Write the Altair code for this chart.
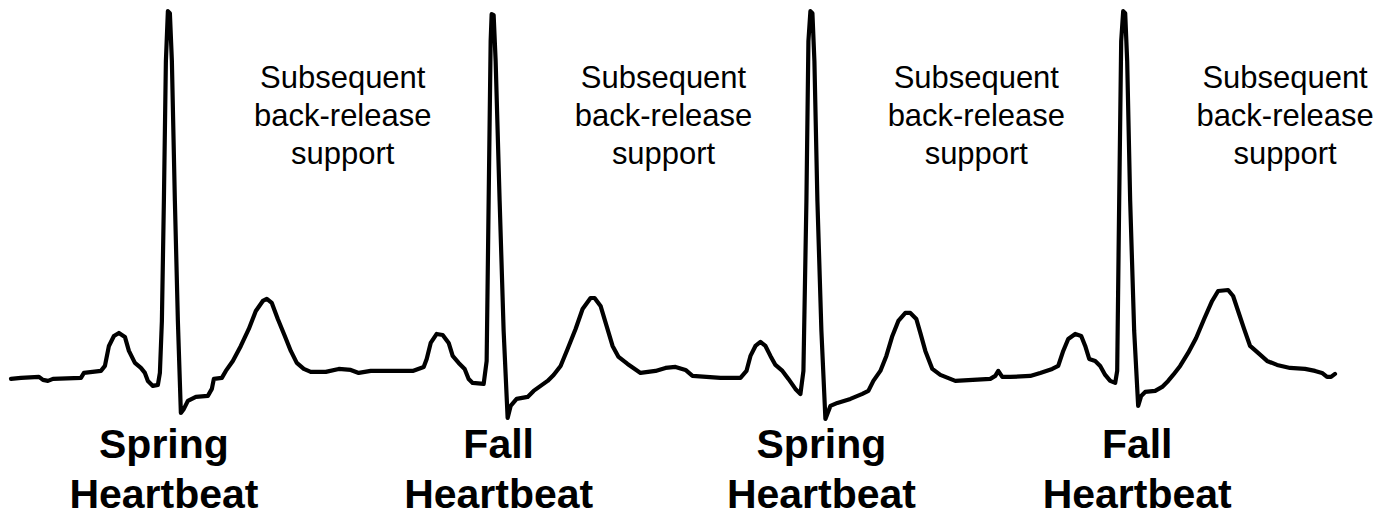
import altair as alt
import pandas as pd

# ECG trace: time (arbitrary units) and amplitude (arbitrary units, baseline = 0)
t_vals = [10, 20, 38, 42, 47, 52, 80, 83, 100, 104, 108, 113, 118, 124, 128, 134, 140, 144, 147, 152, 157, 159,
          161, 163, 165, 167, 169, 171, 174, 177, 180, 183, 187, 195, 207, 211, 213, 221, 225, 232, 240, 248,
          255, 262, 266, 271, 277, 284, 290, 296, 303, 310, 325, 338, 350, 358, 370, 412, 423, 426, 430, 436,
          442, 448, 452, 458, 464, 468, 472, 483,
          486, 488, 490, 491, 493, 495, 499, 503, 507, 510, 516, 527, 533, 540, 547, 553, 560, 567, 575, 582,
          590, 594, 600, 606, 612, 618, 627, 640, 655, 665, 675, 685, 692, 720, 740, 746, 750, 755, 760, 765,
          770, 775, 782, 788, 795, 800,
          803, 806, 808, 810, 812, 814, 817, 821, 825, 830, 837, 850, 862, 868, 873, 880, 886, 892, 898, 905,
          910, 916, 920, 925, 932, 940, 955, 990, 995, 998, 1002, 1010, 1030, 1040, 1052, 1058, 1063, 1068,
          1075, 1081, 1085, 1089, 1095, 1100, 1105, 1110, 1115,
          1117, 1119, 1121, 1123, 1125, 1127, 1130, 1134, 1138, 1141, 1145, 1155, 1162, 1168, 1173, 1180, 1188,
          1196, 1204, 1212, 1218, 1228, 1233, 1238, 1244, 1250, 1258, 1267, 1277, 1290, 1305, 1315, 1322, 1327,
          1331, 1335]
v_vals = [-6, -5, -4, -7, -8, -6, -5, 0, 2, 7, 27, 37, 40, 36, 22, 10, 5, 0, -8, -13, -12, 0,
          52, 172, 312, 362, 360, 312, 172, 52, -40, -36, -28, -24, -23, -16, -6, -5, 2, 12, 27, 44,
          62, 72, 74, 70, 54, 37, 22, 10, 4, 1, 1, 4, 3, 0, 2, 2, 6, 14, 30, 39,
          38, 30, 17, 10, 4, -6, -10, -11,
          12, 172, 332, 359, 358, 312, 172, 42, -45, -33, -26, -24, -18, -13, -8, -2, 7, 24, 44, 64,
          75, 75, 67, 47, 27, 16, 9, 0, 2, 5, 6, 3, -3, -5, -5, 2, 17, 27, 31, 27,
          17, 8, 2, -6, -16, -21,
          2, 172, 332, 362, 360, 312, 172, 42, -46, -33, -30, -26, -21, -18, -8, 2, 17, 37, 52, 60,
          60, 54, 40, 22, 4, -2, -8, -6, -3, 2, -4, -4, -3, 0, 4, 7, 22, 34,
          39, 37, 27, 14, 12, 7, -2, -8, -10,
          2, 172, 332, 362, 360, 312, 172, 42, -33, -23, -19, -18, -14, -8, -2, 7, 20,
          35, 54, 72, 82, 83, 77, 62, 44, 27, 20, 12, 8, 5, 4, 2, 0, -4,
          -4, -1]

# Annotations
sub_labels = ["Subsequent\nback-release\nsupport"] * 4
sub_t = [342, 663, 976, 1285]
sub_v = [285, 285, 285, 285]
beat_labels = ["Spring\nHeartbeat", "Fall\nHeartbeat", "Spring\nHeartbeat", "Fall\nHeartbeat"]
beat_t = [163, 498, 821, 1137]
beat_v = [-85, -85, -85, -85]

ecg = pd.DataFrame({"t": t_vals, "v": v_vals})
subs = pd.DataFrame({"t": sub_t, "v": sub_v, "label": sub_labels})
beats = pd.DataFrame({"t": beat_t, "v": beat_v, "label": beat_labels})

xs = alt.Scale(domain=[8, 1375], nice=False, zero=False)
ys = alt.Scale(domain=[-139, 364], nice=False, zero=False)

line = alt.Chart(ecg).mark_line(color="black", strokeWidth=4.2, strokeJoin="round", strokeCap="round").encode(
    x=alt.X("t:Q", scale=xs, axis=None),
    y=alt.Y("v:Q", scale=ys, axis=None),
)

sub_text = alt.Chart(subs).mark_text(
    font="Liberation Sans", fontSize=31, lineBreak="\n", lineHeight=38,
    align="center", baseline="alphabetic", color="black"
).encode(x=alt.X("t:Q", scale=xs), y=alt.Y("v:Q", scale=ys), text="label:N")

beat_text = alt.Chart(beats).mark_text(
    font="Liberation Sans", fontSize=41, fontWeight="bold", lineBreak="\n", lineHeight=50,
    align="center", baseline="alphabetic", color="black"
).encode(x=alt.X("t:Q", scale=xs), y=alt.Y("v:Q", scale=ys), text="label:N")

chart = alt.layer(line, sub_text, beat_text).properties(
    width=1367, height=503, padding=0, background="white"
).configure_view(stroke=None)

chart.save("out.html", embed_options={"renderer": "svg", "actions": False})
